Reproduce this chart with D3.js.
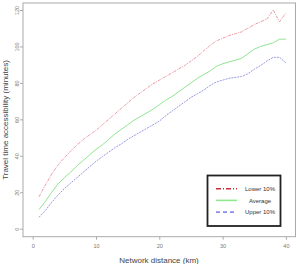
<!DOCTYPE html>
<html>
<head>
<meta charset="utf-8">
<script src="https://cdn.jsdelivr.net/npm/d3@7"></script>
<style>
  body { margin: 0; background: #fff; }
  svg { font-family: "Liberation Sans", Arial, sans-serif; display: block; }
</style>
</head>
<body>
<div id="chart"></div>
<script>
// Chart data
const distance = d3.range(1, 41);
const lower10 = [17.5, 24, 30, 35, 39, 42.5, 46, 49, 51.5, 54,
  57, 60, 63, 66, 69, 72, 74.5, 77, 79.5, 81.5,
  83.5, 85.5, 87.5, 89.5, 92, 94.5, 97.5, 100.5, 103, 104.5,
  106, 107, 108, 110, 112, 113.5, 115, 120, 113.5, 118.5];
const average = [10.5, 15, 20, 24.5, 28, 31, 34.5, 37.5, 40.5, 43.5,
  46, 49, 52, 54.5, 57, 59.5, 61.5, 63.5, 65.5, 68,
  70.5, 72.5, 75, 77.5, 80, 82.5, 84.5, 86.5, 89, 90.5,
  91.5, 92.5, 93.5, 96, 98.5, 100, 101, 102, 104, 104];
const upper10 = [6.3, 10, 14.5, 18.5, 22, 25, 28, 31, 34, 37,
  39.5, 42, 44.5, 46.5, 49, 51, 53, 55, 57, 59,
  62, 64.5, 67, 69.5, 72, 74, 76, 78.5, 80.5, 81.5,
  82.5, 83, 83.5, 85, 87.5, 89.5, 92, 94, 94, 91];
const xTicks = [0, 10, 20, 30, 40];
const yTicks = [0, 20, 40, 60, 80, 100, 120];

const series = [
  { name: "Lower 10%", values: lower10, color: "#e8909c", legendColor: "#c8303c", dash: "5,2,1,2", plotDash: "3,1,1,1" },
  { name: "Average", values: average, color: "#84e084", legendColor: "#8ee88e", dash: null, plotDash: null },
  { name: "Upper 10%", values: upper10, color: "#8c8ce0", legendColor: "#8c8ce8", dash: "4,3", plotDash: "2,1" }
];

const width = 296, height = 264;
const frame = { left: 23, top: 3, right: 295.5, bottom: 236.7 };

const svg = d3.select("#chart")
  .append("svg")
  .attr("width", width)
  .attr("height", height);

const x = d3.scaleLinear().domain([0, 40]).range([32.7, 285.9]);
const y = d3.scaleLinear().domain([0, 120]).range([228.7, 10]);

// Plot frame
svg.append("rect")
  .attr("x", frame.left)
  .attr("y", frame.top)
  .attr("width", frame.right - frame.left)
  .attr("height", frame.bottom - frame.top)
  .attr("fill", "none")
  .attr("stroke", "#aaa")
  .attr("stroke-width", 1);

// X axis
const xAxis = svg.append("g")
  .attr("transform", `translate(0,${frame.bottom})`)
  .call(d3.axisBottom(x).tickValues(xTicks).tickSize(3).tickPadding(4));
xAxis.select(".domain").remove();
xAxis.selectAll("line").attr("stroke", "#aaa");
xAxis.selectAll("text").attr("font-size", 5.5).attr("fill", "#777");

// Y axis (rotated labels like R)
const yAxis = svg.append("g")
  .attr("transform", `translate(${frame.left},0)`)
  .call(d3.axisLeft(y).tickValues(yTicks).tickSize(3));
yAxis.select(".domain").remove();
yAxis.selectAll("line").attr("stroke", "#aaa");
yAxis.selectAll("text")
  .attr("font-size", 5.5)
  .attr("fill", "#777")
  .attr("x", null)
  .attr("dy", null)
  .attr("text-anchor", "middle")
  .attr("transform", "translate(-4,0) rotate(-90)");

// Axis titles
svg.append("text")
  .attr("x", 159)
  .attr("y", 263)
  .attr("text-anchor", "middle")
  .attr("font-size", 8)
  .attr("fill", "#444")
  .text("Network distance (km)");

svg.append("text")
  .attr("transform", "translate(8,120) rotate(-90)")
  .attr("text-anchor", "middle")
  .attr("font-size", 8)
  .attr("fill", "#444")
  .text("Travel time accessibility (minutes)");

// Lines
const line = d3.line()
  .x((d, i) => x(distance[i]))
  .y(d => y(d));

svg.selectAll(".series")
  .data(series)
  .enter().append("path")
  .attr("class", "series")
  .attr("d", d => line(d.values))
  .attr("fill", "none")
  .attr("stroke", d => d.color)
  .attr("stroke-width", 0.9)
  .attr("stroke-linejoin", "round")
  .attr("stroke-dasharray", d => d.plotDash);

// Legend
const legend = svg.append("g");
legend.append("rect")
  .attr("x", 207.5)
  .attr("y", 175.5)
  .attr("width", 73)
  .attr("height", 50.5)
  .attr("fill", "#fff")
  .attr("stroke", "#222")
  .attr("stroke-width", 1.8);

const items = legend.selectAll(".legend-item")
  .data(series)
  .enter().append("g")
  .attr("class", "legend-item")
  .attr("transform", (d, i) => `translate(0, ${188.7 + i * 11.7})`);

items.append("line")
  .attr("x1", 216)
  .attr("x2", 237)
  .attr("stroke", d => d.legendColor)
  .attr("stroke-width", 1.6)
  .attr("stroke-dasharray", d => d.dash);

items.append("text")
  .attr("x", 260)
  .attr("y", 0)
  .attr("dy", "0.35em")
  .attr("text-anchor", "middle")
  .attr("font-size", 6)
  .attr("fill", "#333")
  .text(d => d.name);
</script>
</body>
</html>
